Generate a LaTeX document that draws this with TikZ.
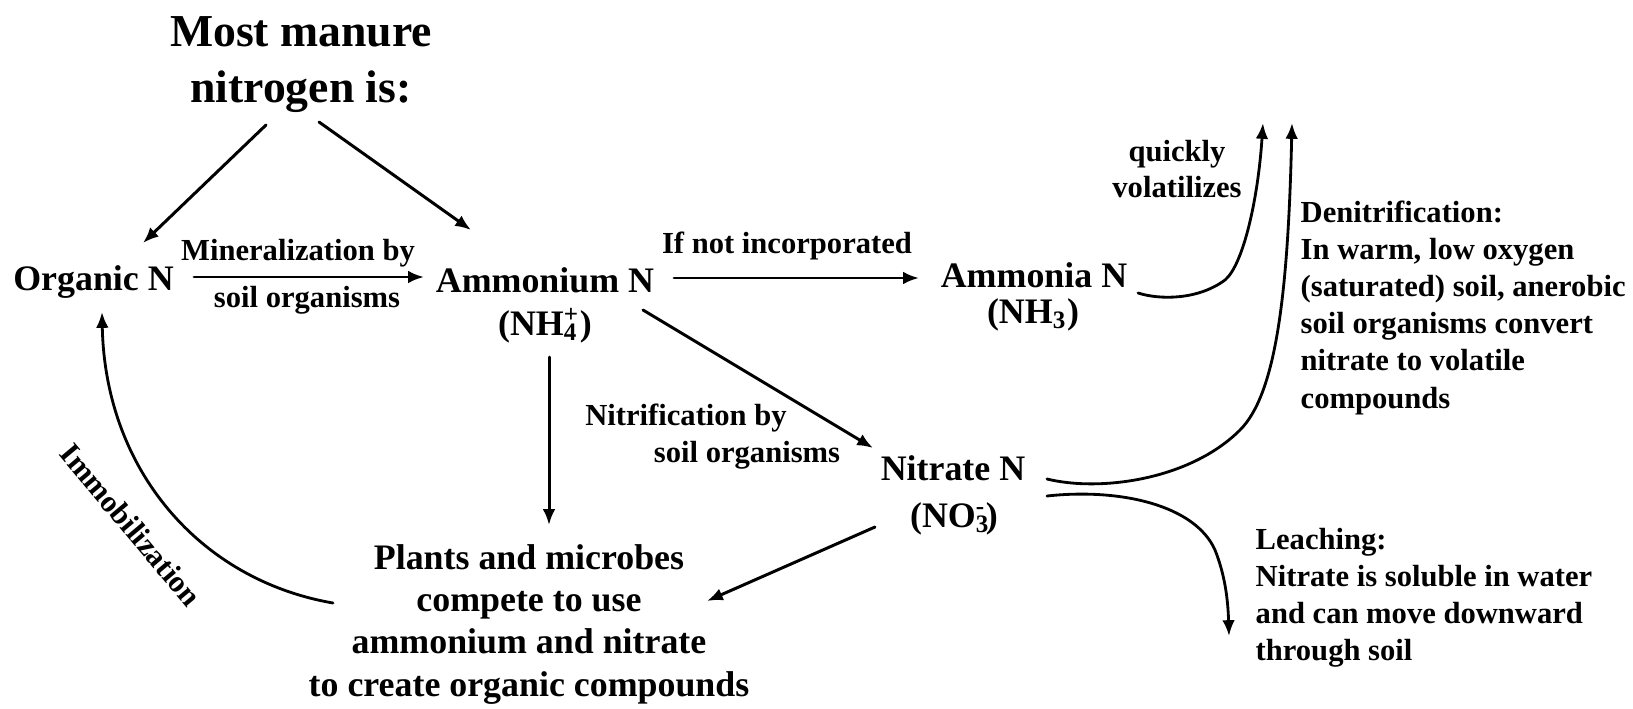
\documentclass[tikz,border=0pt]{standalone}
\usepackage{fontspec}
\setmainfont{Liberation Serif}
\usetikzlibrary{arrows.meta,calc}
\begin{document}
\begin{tikzpicture}[x=0.01cm, y=-0.01cm,
  big/.style={font=\fontsize{10.2}{12}\selectfont\bfseries, inner sep=0pt, anchor=base},
  lab/.style={font=\fontsize{8.7}{10.5}\selectfont\bfseries, inner sep=0pt, anchor=base},
  arr/.style={-{Latex[length=4.5pt,width=3.6pt]}, line width=0.85pt, line cap=round},
  crv/.style={-{Latex[length=4.5pt,width=3.6pt]}, line width=0.8pt, line cap=round}]
\useasboundingbox (0,0) rectangle (1633,709);
% nodes (multi-line nodes are placed by the baseline of their last line)
\node[anchor=base, inner sep=0pt, align=center, font=\fontsize{13}{15.65}\selectfont\bfseries] (title) at (301,102) {Most manure\\nitrogen is:};
\node[big] (org) at (93.5,290) {Organic N};
\node[big] (amm) at (545,292) {Ammonium N};
\node[big] (nh4) at (545,335) {(NH\rlap{\textsubscript{4}}\textsuperscript{+})};
\node[big] (ammonia) at (1034,287) {Ammonia N};
\node[big] (nh3) at (1033,323) {(NH\textsubscript{3})};
\node[big] (nit) at (953,480) {Nitrate N};
\node[big] (no3) at (954,527) {(NO\rlap{\textsubscript{3}}\textsuperscript{-})};
\node[big, align=center, font=\fontsize{10.2}{11.95}\selectfont\bfseries] (plants) at (529,696) {Plants and microbes\\compete to use\\ammonium and nitrate\\to create organic compounds};
\node[lab] (min1) at (298,260) {Mineralization by};
\node[lab] (min2) at (307,307) {soil organisms};
\node[lab] (ifnot) at (787,253) {If not incorporated};
\node[lab] (nitr1) at (686,425) {Nitrification by};
\node[lab] (nitr2) at (747,462) {soil organisms};
\node[lab, align=center, font=\fontsize{8.7}{9.96}\selectfont\bfseries] (quick) at (1177,197) {quickly\\volatilizes};
\node[lab, anchor=base west, align=left, font=\fontsize{8.7}{10.53}\selectfont\bfseries] (denit) at (1300,408) {Denitrification:\\In warm, low oxygen\\(saturated) soil, anerobic\\soil organisms convert\\nitrate to volatile\\compounds};
\node[lab, anchor=base west, align=left, font=\fontsize{8.7}{10.45}\selectfont\bfseries] (leach) at (1255,660) {Leaching:\\Nitrate is soluble in water\\and can move downward\\through soil};
\node[lab, anchor=center, rotate=-50] (immob) at (131,525) {Immobilization};
% free ends
\coordinate (volend) at (1263,123);
\coordinate (denend) at (1292,123);
\coordinate (leachend) at (1229,636);
% connectors
\draw[arr] ($(title.base)+(-35,23)$) -- ($(org.base)+(49.5,-47)$);
\draw[arr] ($(title.base)+(18,20)$) -- ($(amm.base)+(-74,-62)$);
\draw[arr] ($(org.base)+(100.5,-13)$) -- ($(amm.base)+(-121,-15)$);
\draw[arr] ($(amm.base)+(129,-14)$) -- ($(ammonia.base)+(-115,-9)$);
\draw[arr] ($(amm.base)+(98,18)$) -- ($(nit.base)+(-80,-32)$);
\draw[arr] ($(nh4.base)+(4,22)$) -- ($(plants.base)+(20,-171)$);
\draw[arr] ($(nit.base)+(-78,47)$) -- ($(plants.base)+(178,-95)$);
\draw[crv] ($(ammonia.base)+(104,6)$) .. controls (1160,300) and (1198,300) .. (1225,280) .. controls (1243,265) and (1258,200) .. (volend);
\draw[crv] ($(nit.base)+(94,-1)$) .. controls (1100,492) and (1190,480) .. (1240,430) .. controls (1275,395) and (1288,300) .. (denend);
\draw[crv] ($(nit.base)+(94,16)$) .. controls (1120,488) and (1195,505) .. (1215,550) .. controls (1225,575) and (1228,600) .. (leachend);
\draw[crv] ($(plants.base)+(-196,-93)$) .. controls (200,580) and (105,470) .. ($(org.base)+(8.5,22)$);
\end{tikzpicture}
\end{document}
